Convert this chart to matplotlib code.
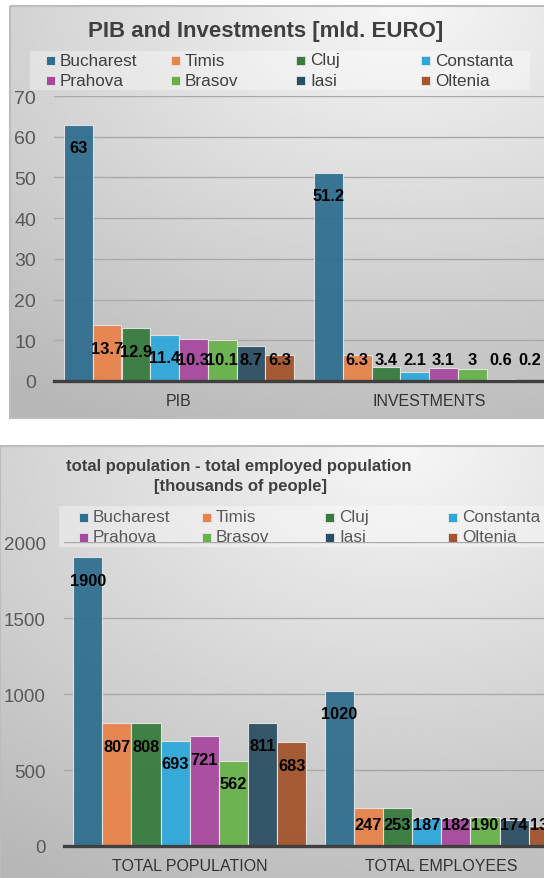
import numpy as np
import matplotlib
matplotlib.use('Agg')
import matplotlib.pyplot as plt
from matplotlib.patches import Rectangle

REGIONS = ['Bucharest', 'Timis', 'Cluj', 'Constanta', 'Prahova', 'Brasov', 'Iasi', 'Oltenia']
COLORS = ['#2f6f8f', '#e8834c', '#377b3e', '#2ea8da', '#a8489e', '#68b24a', '#2b4f63', '#a3552c']

ECON_CATS = ['PIB', 'INVESTMENTS']
PIB = [63, 13.7, 12.9, 11.4, 10.3, 10.1, 8.7, 6.3]
INVESTMENTS = [51.2, 6.3, 3.4, 2.1, 3.1, 3, 0.6, 0.2]

POP_CATS = ['TOTAL POPULATION', 'TOTAL EMPLOYEES']
POPULATION = [1900, 807, 808, 693, 721, 562, 811, 683]
EMPLOYEES = [1020, 247, 253, 187, 182, 190, 174, 130]

W, H = 544, 879
plt.rcParams['font.family'] = ['Liberation Sans', 'DejaVu Sans']
fig = plt.figure(figsize=(W / 100, H / 100), dpi=100)

# background layer in pixel coordinates (origin top-left)
bg = fig.add_axes([0, 0, 1, 1])
bg.set_zorder(-1)
bg.axis('off')


def px_rect(x0, y0, x1, y1):
    return [x0 / W, 1 - y1 / H, (x1 - x0) / W, (y1 - y0) / H]


def panel(x0, y0, x1, y1):
    yy, xx = np.mgrid[0:1:200j, 0:1:200j]
    r = np.sqrt((xx - 0.7) ** 2 + (yy * 1.1) ** 2)
    shade = 0.965 - 0.2 * np.clip(r, 0, 1.25)
    bg.imshow(shade, cmap='gray', vmin=0, vmax=1, extent=(x0, x1, y1, y0),
              aspect='auto', interpolation='bilinear')
    bg.add_patch(Rectangle((x0, y0), x1 - x0, y1 - y0, fill=False, ec='#bcbcbc', lw=1.5))


def legend(x0, y0, x1, y1, col_x, col_step, row_y, txt_color):
    bg.add_patch(Rectangle((x0, y0), x1 - x0, y1 - y0, fc='white', alpha=0.35, ec='none'))
    for i, (name, c) in enumerate(zip(REGIONS, COLORS)):
        row, col = divmod(i, 4)
        mx = col_x + col * col_step
        my = row_y + row * 20
        bg.add_patch(Rectangle((mx, my - 4.5), 9, 9, fc=c, ec='#e6e6e6', lw=0.6))
        bg.text(mx + 14, my, name, va='center', ha='left', fontsize=12.3, color=txt_color)


def bar_chart(rect_px, cats, series, ymax, ystep, bar_w, tick_size):
    ax = fig.add_axes(px_rect(*rect_px))
    ax.set_facecolor('none')
    x = np.arange(len(cats))
    n = len(REGIONS)
    ppu = (rect_px[3] - rect_px[1]) / ymax
    for i, (name, c) in enumerate(zip(REGIONS, COLORS)):
        vals = [s[i] for s in series]
        pos = x + (i - (n - 1) / 2) * bar_w
        ax.bar(pos, vals, bar_w, color=c, alpha=0.94, edgecolor='#e4e4e4',
               linewidth=0.8, zorder=2)
        # value labels sit inside the bar top, but never lower than the label height
        for px, v in zip(pos, vals):
            ly = max(v - 23 / ppu, 21 / ppu)
            ax.text(px, ly, '{:g}'.format(v), ha='center', va='center',
                    fontsize=11.8, fontweight='bold', color='black', zorder=3)
    ax.set_xlim(-0.5, len(cats) - 0.5)
    ax.set_ylim(0, ymax)
    ax.set_yticks(np.arange(0, ymax + 1, ystep))
    ax.set_xticks(x, cats)
    ax.set_axisbelow(True)
    ax.yaxis.grid(True, color='#a9a9a9', lw=1.0)
    for side in ['top', 'left', 'right']:
        ax.spines[side].set_visible(False)
    ax.spines['bottom'].set_color('#404040')
    ax.spines['bottom'].set_linewidth(2.4)
    ax.tick_params(axis='y', length=0, pad=13, labelsize=tick_size, labelcolor='#595959')
    ax.tick_params(axis='x', length=0, pad=8.5, labelsize=11.5, labelcolor='#333333')
    return ax


panel(10, 7, 570, 419)
panel(0, 447, 570, 890)

fig.text(266 / W, 1 - 32 / H, 'PIB and Investments [mld. EURO]', ha='center', va='center',
         fontsize=16, fontweight='bold', color='#404040')
legend(30, 52, 530, 91, 46, 125, 61, '#404040')
bar_chart((54, 97, 554, 382), ECON_CATS, [PIB, INVESTMENTS], 70, 10, 0.115, 14)

fig.text(239 / W, 1 - 467 / H, 'total population - total employed population',
         ha='center', va='center', fontsize=12, fontweight='bold', color='#404040')
fig.text(240 / W, 1 - 487 / H, '[thousands of people]',
         ha='center', va='center', fontsize=12, fontweight='bold', color='#404040')
legend(59, 507, 570, 548, 79, 123, 518, '#595959')
bar_chart((64, 543, 567, 847), POP_CATS, [POPULATION, EMPLOYEES], 2000, 500, 0.116, 13.5)

bg.set_xlim(0, W)
bg.set_ylim(H, 0)

fig.savefig('out.png', dpi=100)
